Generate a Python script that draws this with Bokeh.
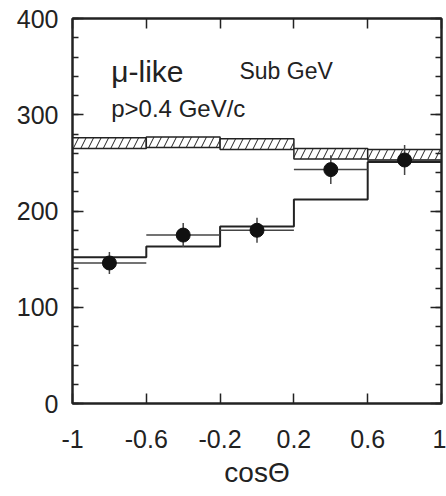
from bokeh.plotting import figure
from bokeh.models import Range1d, LinearAxis, FixedTicker, SingleIntervalTicker, CustomJSTickFormatter
from bokeh.core.properties import value
from bokeh.embed import file_html
from bokeh.resources import INLINE

# ---- data ----
bin_edges = [-1.0, -0.6, -0.2, 0.2, 0.6, 1.0]
bin_centers = [-0.8, -0.4, 0.0, 0.4, 0.8]
mc_noosc_low = [265, 266, 264, 254, 253]
mc_noosc_high = [276, 277, 275, 265, 264]
mc_osc = [152, 163, 184, 212, 251]
data_vals = [146, 175, 180, 243, 253]
data_errs = [11.5, 12.5, 13, 15, 15.5]
x_ticks = [-1.0, -0.6, -0.2, 0.2, 0.6, 1.0]
x_tick_labels = ["-1", "-0.6", "-0.2", "0.2", "0.6", "1"]
half_width = 0.2

FONT = "Liberation Sans"
INK = "#222222"

p = figure(width=446, height=496, output_backend="svg", toolbar_location=None,
           x_range=Range1d(-1, 1), y_range=Range1d(0, 400),
           min_border_left=72, min_border_right=5, min_border_top=18, min_border_bottom=93,
           x_axis_label="cosΘ")
p.grid.visible = False
p.outline_line_color = INK
p.outline_line_width = 2
p.background_fill_color = "white"
p.border_fill_color = "white"

def style_x(ax):
    ax.ticker = FixedTicker(ticks=x_ticks, minor_ticks=[])
    ax.major_tick_in = 10
    ax.major_tick_out = 0
    ax.minor_tick_in = 0
    ax.minor_tick_out = 0
    ax.axis_line_color = INK
    ax.axis_line_width = 2
    ax.major_tick_line_color = INK
    ax.major_tick_line_width = 1.5

def style_y(ax):
    ax.ticker = SingleIntervalTicker(interval=100, num_minor_ticks=5)
    ax.major_tick_in = 11
    ax.major_tick_out = 0
    ax.minor_tick_in = 6
    ax.minor_tick_out = 0
    ax.axis_line_color = INK
    ax.axis_line_width = 2
    ax.major_tick_line_color = INK
    ax.minor_tick_line_color = INK
    ax.major_tick_line_width = 1.5
    ax.minor_tick_line_width = 1.5

xa = p.xaxis[0]
style_x(xa)
xa.major_label_overrides = {t: l for t, l in zip(x_ticks, x_tick_labels)}
xa.major_label_text_font = FONT
xa.major_label_text_font_size = "25px"
xa.major_label_text_color = INK
xa.major_label_standoff = 26
xa.axis_label_text_font = FONT
xa.axis_label_text_font_size = "28px"
xa.axis_label_text_font_style = "normal"
xa.axis_label_text_color = INK
xa.axis_label_standoff = 6

ya = p.yaxis[0]
style_y(ya)
ya.major_label_text_font = FONT
ya.major_label_text_font_size = "25px"
ya.major_label_text_color = INK
ya.major_label_standoff = 14

empty = CustomJSTickFormatter(code="return ''")
top = LinearAxis()
style_x(top)
top.formatter = empty
top.major_label_standoff = 0
top.major_label_text_font_size = "1px"
p.add_layout(top, "above")

right = LinearAxis()
style_y(right)
right.formatter = empty
right.major_label_standoff = 0
right.major_label_text_font_size = "1px"
p.add_layout(right, "right")

# hatched no-oscillation band
p.quad(left=bin_edges[:-1], right=bin_edges[1:], bottom=mc_noosc_low, top=mc_noosc_high,
       fill_color="white", line_color=INK, line_width=1.5,
       hatch_pattern="/", hatch_color=INK, hatch_scale=15, hatch_weight=1)

# oscillated MC histogram
p.step(x=bin_edges, y=mc_osc + [mc_osc[-1]], mode="after", line_color=INK, line_width=2)

# data error bars
p.segment(x0=[c - half_width for c in bin_centers], y0=data_vals,
          x1=[c + half_width for c in bin_centers], y1=data_vals,
          line_color="#444444", line_width=1.5)
p.segment(x0=bin_centers, y0=[v - e for v, e in zip(data_vals, data_errs)],
          x1=bin_centers, y1=[v + e for v, e in zip(data_vals, data_errs)],
          line_color="#444444", line_width=1.5)
p.scatter(x=bin_centers, y=data_vals, size=14, marker="circle",
          fill_color="#111111", line_color="#111111")

# texts
p.text(x=[-0.79], y=[345], text=["μ-like"], text_font=value(FONT), text_font_size="30px",
       text_color=INK, text_baseline="alphabetic")
p.text(x=[-0.095], y=[345], text=["Sub GeV"], text_font=value(FONT), text_font_size="23px",
       text_color=INK, text_baseline="alphabetic")
p.text(x=[-0.79], y=[306], text=["p>0.4 GeV/c"], text_font=value(FONT), text_font_size="24px",
       text_color=INK, text_baseline="alphabetic")

open("out.html", "w").write(file_html(p, INLINE))
